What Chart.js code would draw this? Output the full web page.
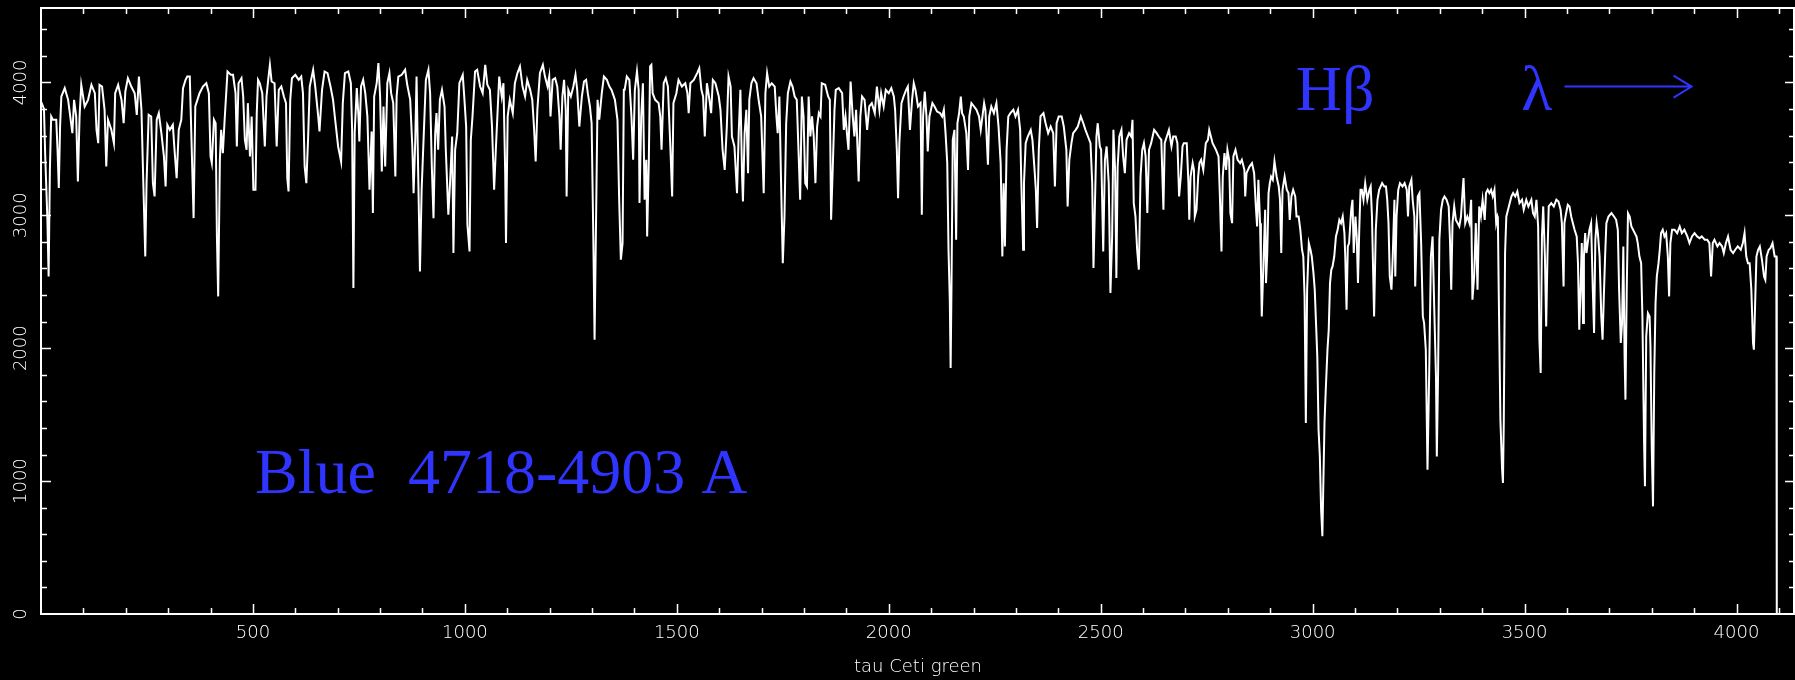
<!DOCTYPE html>
<html>
<head>
<meta charset="utf-8">
<script src="https://cdn.jsdelivr.net/npm/chart.js@4.4.1/dist/chart.umd.min.js"></script>
<style>
  html, body { margin: 0; padding: 0; background: #000; }
  #wrap { width: 1795px; height: 680px; position: relative; }
</style>
</head>
<body>
<div id="wrap"><canvas id="spec"></canvas></div>
<script>
// tau Ceti, blue order: [pixel, counts]
const spectrum = [
  [1,3850],[7,3800],[10,3443],[15,2979],[18,2540],[21,3342],[24,3744],[28,3719],[36,3719],[39,3493],[42,3205],[45,3668],[48,3894],[56,3957],[64,3869],[68,3769],[74,3618],[78,3869],[83,3744],[87,3255],[91,3744],[95,3982],[103,3819],[111,3869],[119,3982],[127,3919],[131,3643],[135,3543],[138,3982],[144,3969],[150,3794],[154,3368],[158,3719],[166,3643],[172,3543],[175,3919],[182,3982],[190,3869],[195,3693],[199,3932],[205,4032],[213,3969],[221,3919],[226,3756],[231,4044],[237,3794],[241,3292],[246,2691],[249,3242],[254,3756],[260,3744],[264,3242],[268,3142],[273,3719],[278,3769],[284,3618],[290,3443],[294,3217],[298,3681],[304,3643],[311,3681],[315,3493],[320,3280],[325,3643],[331,3719],[335,3957],[341,4019],[345,4044],[351,4044],[355,3568],[360,2979],[364,3819],[369,3869],[374,3919],[382,3969],[390,3994],[396,3919],[400,3443],[403,3393],[408,3719],[412,3693],[415,2841],[418,2390],[422,3418],[425,3643],[429,3468],[433,3706],[440,4082],[448,4057],[453,4057],[459,3919],[462,3518],[466,3994],[473,4032],[477,3894],[481,3568],[485,3493],[488,3844],[493,3443],[497,3744],[501,3192],[506,3192],[509,3769],[512,4019],[516,3994],[522,3919],[528,3518],[532,3894],[536,4019],[540,4132],[544,4007],[551,3994],[556,3518],[561,3944],[567,3969],[573,3894],[578,3844],[581,3280],[584,3180],[588,3869],[592,4032],[600,4057],[608,4019],[614,4044],[618,3919],[622,3368],[626,3242],[630,3568],[634,3969],[642,4095],[647,3969],[654,3744],[657,3631],[663,3944],[669,4082],[676,4070],[683,3969],[689,3869],
  [694,3719],[701,3518],[708,3405],[712,3844],[717,4070],[725,4082],[731,3994],[734,3643],[737,2453],[740,3618],[745,3957],[749,3744],[751,3556],[755,3969],[760,4019],[765,3919],[770,3744],[775,3192],[780,3631],[783,3017],[786,3894],[792,3994],[796,4145],[800,3894],[804,3330],[808,3819],[812,3368],[817,3994],[822,4070],[826,3919],[831,3844],[836,3292],[839,3894],[843,4044],[851,4057],[859,4095],[864,3982],[871,3869],[876,3518],[879,3167],[883,3568],[886,4044],[890,3292],[894,2578],[898,3192],[904,3693],[908,4019],[914,4095],[918,3919],[922,3368],[926,2979],[930,3618],[933,3769],[937,3493],[941,3869],[946,3944],[952,3819],[955,3493],[961,3004],[965,3242],[970,3593],[973,2716],[977,3493],[982,3618],[987,3994],[995,4057],[999,3869],[1003,3668],[1006,2929],[1011,2728],[1014,3568],[1018,3744],[1024,4082],[1029,4095],[1036,3969],[1042,3919],[1048,4132],[1053,3982],[1059,3944],[1064,3668],[1069,3192],[1073,3493],[1077,3769],[1081,4044],[1087,3894],[1091,3994],[1095,3342],[1097,2791],[1101,3744],[1106,3869],[1113,3769],[1118,3994],[1124,4070],[1130,4120],[1136,3969],[1142,3894],[1147,4019],[1154,3944],[1159,3869],[1163,3668],[1167,3405],[1171,3794],[1177,4070],[1184,4132],[1189,4044],[1195,3969],[1199,4044],[1202,3744],[1207,4019],[1213,4032],[1218,3969],[1223,3744],[1226,3493],[1230,3894],[1234,4019],[1238,3794],[1240,3142],[1244,3944],[1250,3894],[1256,3969],[1261,4057],[1265,3944],[1270,3668],[1276,3894],[1281,4007],[1286,4019],[1290,3919],[1295,3819],[1299,3693],[1303,2841],[1306,2064],[1309,2841],[1313,3869],[1317,3719],[1323,3919],[1328,4044],[1335,4019],[1341,3969],[1346,3944],[1354,3869],[1360,3719],[1364,3117],[1368,2666],[1372,2791],[1375,3944],
  [1377,3944],[1382,4044],[1388,4019],[1393,3744],[1397,3418],[1401,3944],[1406,4082],[1410,3944],[1412,3092],[1416,3744],[1420,3994],[1424,3117],[1428,3418],[1430,2841],[1434,3418],[1437,4120],[1440,4132],[1443,3919],[1449,3869],[1457,3844],[1461,3744],[1464,3493],[1469,3994],[1474,4032],[1479,3969],[1485,3493],[1489,3142],[1492,3844],[1499,3919],[1504,4019],[1512,3969],[1520,3994],[1525,3919],[1528,3769],[1532,3994],[1540,4019],[1548,4070],[1553,4107],[1558,3944],[1562,3894],[1566,3593],[1571,3994],[1577,3869],[1581,3769],[1585,4019],[1591,3994],[1599,3894],[1603,3794],[1608,3493],[1613,3342],[1618,3668],[1622,4044],[1627,3969],[1630,3593],[1636,3518],[1642,3167],[1646,3618],[1650,3944],[1654,3292],[1656,3104],[1660,3618],[1664,3794],[1668,3317],[1671,3869],[1676,3994],[1681,4032],[1688,3994],[1693,3869],[1699,3744],[1705,3167],[1709,3919],[1713,4070],[1718,3969],[1724,3994],[1731,3969],[1735,3744],[1738,3618],[1742,3894],[1746,3242],[1750,2640],[1754,2992],[1758,3693],[1762,3919],[1768,4007],[1773,3969],[1778,3894],[1783,3869],[1787,3493],[1791,3117],[1795,3894],[1799,3744],[1803,3242],[1807,3217],[1811,3894],[1815,3593],[1819,3744],[1823,3593],[1827,3242],[1831,3668],[1835,3769],[1839,3744],[1842,3994],[1850,3982],[1857,3894],[1861,3869],[1864,2966],[1868,3368],[1872,3794],[1875,3944],[1882,3957],[1890,3919],[1894,3643],[1898,3744],[1902,3593],[1905,3493],[1910,4007],[1915,3744],[1919,3593],[1923,3794],[1927,3443],[1929,3255],[1933,3744],[1937,3894],[1943,3869],[1949,3643],[1954,3819],[1960,3844],[1967,3769],[1972,3969],[1978,3794],[1982,3919],[1988,3819],[1993,3944],[2000,3919],[2006,3957],[2012,3894],[2015,3794],[2019,3493],[2022,3129],[2025,3543],[2030,3844],[2035,3894],[2041,3944],[2045,3969],[2050,3643],[2055,3869],
  [2059,3994],[2063,3944],[2069,3819],[2075,3844],[2078,3004],[2081,3744],[2085,3932],[2089,3744],[2092,3480],[2096,3744],[2103,3844],[2108,3819],[2114,3781],[2121,3769],[2126,3744],[2130,3794],[2134,3618],[2138,3393],[2141,2741],[2144,2365],[2146,1851],[2148,2465],[2151,3568],[2155,3643],[2159,2816],[2162,3693],[2166,3769],[2170,3894],[2173,3769],[2177,3744],[2183,3618],[2187,3342],[2190,3744],[2195,3844],[2201,3819],[2207,3794],[2213,3744],[2217,3643],[2225,3844],[2228,3794],[2234,3380],[2237,3744],[2242,3819],[2248,3769],[2254,3844],[2259,3668],[2264,3393],[2268,2691],[2271,3242],[2274,2766],[2278,3493],[2282,3744],[2287,3769],[2294,3794],[2299,3744],[2305,3794],[2310,3643],[2313,3217],[2317,2741],[2319,3242],[2323,3543],[2328,3593],[2335,3643],[2339,3568],[2344,3342],[2347,3192],[2350,2904],[2354,3493],[2358,3744],[2365,3769],[2370,3693],[2376,3618],[2382,3668],[2388,3618],[2392,3217],[2396,3693],[2401,3744],[2408,3744],[2413,3668],[2419,3493],[2422,3067],[2426,3418],[2431,3543],[2435,3618],[2441,3643],[2446,3668],[2453,3744],[2459,3693],[2464,3643],[2470,3593],[2476,3543],[2480,3242],[2483,2603],[2486,3017],[2490,3593],[2493,3693],[2498,3518],[2501,3493],[2506,2728],[2510,3418],[2514,3518],[2519,3242],[2523,2415],[2527,2841],[2530,3643],[2534,3342],[2537,2528],[2540,3368],[2544,3593],[2549,3643],[2553,3443],[2557,3317],[2561,3568],[2567,3618],[2572,3593],[2575,3719],[2578,3092],[2582,2992],[2586,2741],[2590,2591],[2594,3292],[2598,3493],[2602,3543],[2606,3443],[2610,3017],[2614,3493],[2619,3543],[2626,3643],[2632,3618],[2637,3593],[2643,3568],[2648,3042],[2651,3543],[2656,3593],[2661,3643],[2667,3518],[2671,3593],[2677,3593],[2681,3543],[2685,3142],[2689,3292],[2693,3518],[2696,3543],[2703,3543],[2707,3242],[2709,2966],[2712,3292],[2717,3393],[2720,3342],[2722,2992],[2726,3042],[2730,3292],[2733,3393],[2737,3418],[2742,3342],[2748,3543],[2753,3568],
  [2756,3643],[2764,3543],[2772,3493],[2778,3443],[2781,3167],[2785,2728],[2788,3292],[2792,3468],[2796,3342],[2799,3493],[2803,3418],[2806,3016],[2810,2941],[2813,3443],[2818,3493],[2823,3418],[2829,3393],[2833,3418],[2839,3342],[2841,3142],[2844,3317],[2851,3367],[2857,3393],[2862,3317],[2866,3067],[2869,2916],[2872,3267],[2876,2941],[2878,2615],[2880,2239],[2884,2640],[2888,3042],[2890,2490],[2893,2716],[2896,3167],[2899,3242],[2902,3292],[2906,3267],[2910,3405],[2915,3292],[2920,3217],[2923,3117],[2926,2716],[2929,3192],[2934,3292],[2939,3192],[2943,3167],[2946,2966],[2950,3142],[2954,3192],[2959,3142],[2962,2991],[2967,2991],[2971,2891],[2975,2741],[2978,2690],[2981,2390],[2984,1437],[2987,2440],[2991,2791],[2995,2741],[2998,2690],[3002,2565],[3005,2440],[3008,2189],[3011,1938],[3014,1387],[3017,1186],[3020,785],[3023,585],[3025,936],[3028,1437],[3031,1688],[3035,1989],[3038,2139],[3041,2490],[3044,2590],[3047,2615],[3051,2690],[3055,2841],[3059,2891],[3063,2966],[3067,2941],[3071,2991],[3075,2866],[3077,2690],[3080,2289],[3083,2766],[3086,2791],[3091,3042],[3094,3117],[3097,2716],[3101,2991],[3104,2841],[3107,2490],[3110,2891],[3113,3192],[3116,3192],[3120,3117],[3124,3242],[3129,3117],[3134,3192],[3137,3217],[3140,2991],[3143,2540],[3145,2239],[3149,2891],[3153,3117],[3157,3192],[3164,3242],[3169,3217],[3173,3217],[3176,3117],[3179,2941],[3182,2540],[3186,2440],[3189,2690],[3193,3117],[3195,2540],[3198,2991],[3202,3192],[3206,3242],[3212,3217],[3217,3242],[3222,3192],[3225,2991],[3228,3217],[3233,3267],[3236,3117],[3240,2991],[3242,2465],[3245,2816],[3248,3142],[3252,3167],[3256,2791],[3260,2239],[3263,2189],[3267,1989],[3271,1086],[3275,1813],[3279,2690],[3283,2841],[3287,2289],[3291,1788],[3293,1186],[3296,1813],[3299,2816],[3303,3042],[3307,3117],[3311,3142],[3316,3117],[3321,3067],[3324,2816],[3327,2440],[3330,2941],[3334,3067],[3338,2966],[3342,2941],[3346,2916],[3350,2991],[3354,3192],[3356,3280],[3360,2941],[3365,2991],[3370,2941],[3374,3117],[3377,2365],[3381,2540],[3385,2941],[3389,2440],[3393,3067],[3397,2991],[3401,3117],[3406,2966],[3409,3167],[3413,3192],[3417,3167],[3421,3192],[3425,3142],[3429,3192],[3433,2941],[3436,2991],
  [3437,2979],[3439,2440],[3443,1462],[3447,1086],[3449,986],[3451,1462],[3454,2716],[3457,2991],[3461,3042],[3465,3092],[3469,3142],[3473,3167],[3478,3142],[3483,3179],[3488,3092],[3494,3117],[3498,3042],[3504,3117],[3509,3067],[3516,3117],[3520,3016],[3524,2991],[3528,3117],[3532,2916],[3535,2064],[3538,1813],[3541,2841],[3544,3067],[3548,2690],[3551,2164],[3554,2690],[3557,3067],[3563,3092],[3569,3067],[3575,3117],[3580,3104],[3585,3042],[3588,2941],[3592,2465],[3594,2941],[3598,3016],[3602,3079],[3606,3067],[3610,2991],[3614,2941],[3618,2891],[3623,2841],[3626,2640],[3629,2139],[3632,2440],[3635,2791],[3638,2189],[3640,2690],[3643,2866],[3646,2716],[3649,2791],[3653,2891],[3657,2941],[3661,2440],[3664,2114],[3667,2816],[3670,2941],[3673,2866],[3677,2690],[3681,2239],[3684,2064],[3687,2390],[3690,2690],[3693,2941],[3698,2991],[3705,3016],[3711,2991],[3716,2966],[3720,2891],[3723,2440],[3727,2039],[3730,2189],[3733,2766],[3736,1938],[3738,1613],[3741,2440],[3744,3016],[3748,2991],[3752,2916],[3756,2891],[3760,2866],[3764,2841],[3767,2791],[3771,2690],[3775,2640],[3778,2239],[3782,1287],[3784,961],[3787,2089],[3791,2264],[3795,2239],[3797,2014],[3800,1261],[3803,810],[3806,1813],[3809,2340],[3812,2540],[3816,2640],[3819,2741],[3822,2866],[3826,2891],[3830,2841],[3834,2866],[3838,2690],[3841,2390],[3844,2791],[3848,2891],[3854,2891],[3860,2866],[3866,2916],[3871,2866],[3877,2891],[3884,2841],[3889,2791],[3895,2841],[3901,2866],[3907,2841],[3913,2828],[3918,2841],[3925,2816],[3931,2816],[3936,2791],[3940,2540],[3944,2791],[3948,2816],[3955,2766],[3960,2791],[3966,2766],[3970,2716],[3975,2791],[3980,2841],[3986,2741],[3992,2716],[3997,2741],[4003,2766],[4010,2741],[4015,2791],[4019,2866],[4023,2690],[4027,2640],[4031,2640],[4035,2440],[4039,2039],[4041,1989],[4044,2340],[4047,2690],[4051,2741],[4055,2766],[4060,2666],[4065,2540],[4068,2515],[4071,2690],[4076,2741],[4080,2753],[4085,2791],[4090,2690],[4094,2690],[4095,0],[4138,0]
];

const xRange = [0, 4138];
const yRange = [0, 4560];
const xTickLabels = [500, 1000, 1500, 2000, 2500, 3000, 3500, 4000];
const yTickLabels = [0, 1000, 2000, 3000, 4000];
const xMinorStep = 100;
const yMinorStep = 200;
const xTitle = 'tau Ceti green';

// blue labels: [text, x, y] in data units (left edge, baseline)
const notes = [
  ['Blue  4718-4903 A', 505, 911],
  ['H\u03b2', 2960, 3794],
  ['\u03bb', 3492, 3794]
];
const arrowFrom = [3594, 3969];
const arrowTo = [3894, 3969];

const fg = '#ffffff';
const blue = '#2f35ff';

const frame = {
  id: 'frame',
  beforeDraw(chart) {
    const c = chart.ctx;
    c.save();
    c.fillStyle = '#000';
    c.fillRect(0, 0, chart.width, chart.height);
    c.restore();
  },
  afterDraw(chart) {
    const c = chart.ctx;
    const a = chart.chartArea;
    const xs = chart.scales.x, ys = chart.scales.y;
    c.save();
    c.strokeStyle = fg;
    c.lineWidth = 2;
    c.strokeRect(a.left, a.top, a.right - a.left - 1, a.bottom - a.top);

    c.lineWidth = 1.5;
    c.beginPath();
    for (let v = xMinorStep; v < xRange[1]; v += xMinorStep) {
      const len = v % 500 === 0 ? 10 : 6;
      const px = Math.round(xs.getPixelForValue(v)) + 0.5;
      c.moveTo(px, a.bottom); c.lineTo(px, a.bottom - len);
      c.moveTo(px, a.top); c.lineTo(px, a.top + len);
    }
    for (let v = yMinorStep; v < yRange[1]; v += yMinorStep) {
      const len = v % 1000 === 0 ? 10 : 6;
      const py = Math.round(ys.getPixelForValue(v)) + 0.5;
      c.moveTo(a.left, py); c.lineTo(a.left + len, py);
      c.moveTo(a.right, py); c.lineTo(a.right - len, py);
    }
    c.stroke();

    c.fillStyle = fg;
    c.font = '300 18px "DejaVu Sans"';
    c.textAlign = 'center';
    c.textBaseline = 'middle';
    xTickLabels.forEach(v => c.fillText(String(v), xs.getPixelForValue(v), 633));
    yTickLabels.forEach(v => {
      c.save();
      c.translate(21, ys.getPixelForValue(v));
      c.rotate(-Math.PI / 2);
      c.fillText(String(v), 0, 0);
      c.restore();
    });
    c.fillText(xTitle, (a.left + a.right) / 2, 667);

    c.fillStyle = blue;
    c.strokeStyle = blue;
    c.font = '64px "Liberation Serif"';
    c.textAlign = 'left';
    c.textBaseline = 'alphabetic';
    notes.forEach(n => c.fillText(n[0], xs.getPixelForValue(n[1]), ys.getPixelForValue(n[2])));

    const x0 = xs.getPixelForValue(arrowFrom[0]), y0 = ys.getPixelForValue(arrowFrom[1]);
    const x1 = xs.getPixelForValue(arrowTo[0]), y1 = ys.getPixelForValue(arrowTo[1]);
    c.lineWidth = 2;
    c.beginPath();
    c.moveTo(x0, y0); c.lineTo(x1, y1);
    c.moveTo(x1 - 18, y1 - 11); c.lineTo(x1, y1); c.lineTo(x1 - 18, y1 + 11);
    c.stroke();
    c.restore();
  }
};

new Chart(document.getElementById('spec'), {
  type: 'line',
  data: {
    datasets: [{
      data: spectrum.map(p => ({ x: p[0], y: p[1] })),
      borderColor: '#ffffff',
      borderWidth: 2,
      pointRadius: 0,
      tension: 0,
      fill: false
    }]
  },
  options: {
    responsive: true,
    maintainAspectRatio: false,
    animation: false,
    events: [],
    layout: { padding: { left: 41, top: 8, right: 0, bottom: 66 } },
    scales: {
      x: { type: 'linear', min: xRange[0], max: xRange[1], display: false },
      y: { type: 'linear', min: yRange[0], max: yRange[1], display: false }
    },
    plugins: {
      legend: { display: false },
      tooltip: { enabled: false }
    }
  },
  plugins: [frame]
});
</script>
</body>
</html>
